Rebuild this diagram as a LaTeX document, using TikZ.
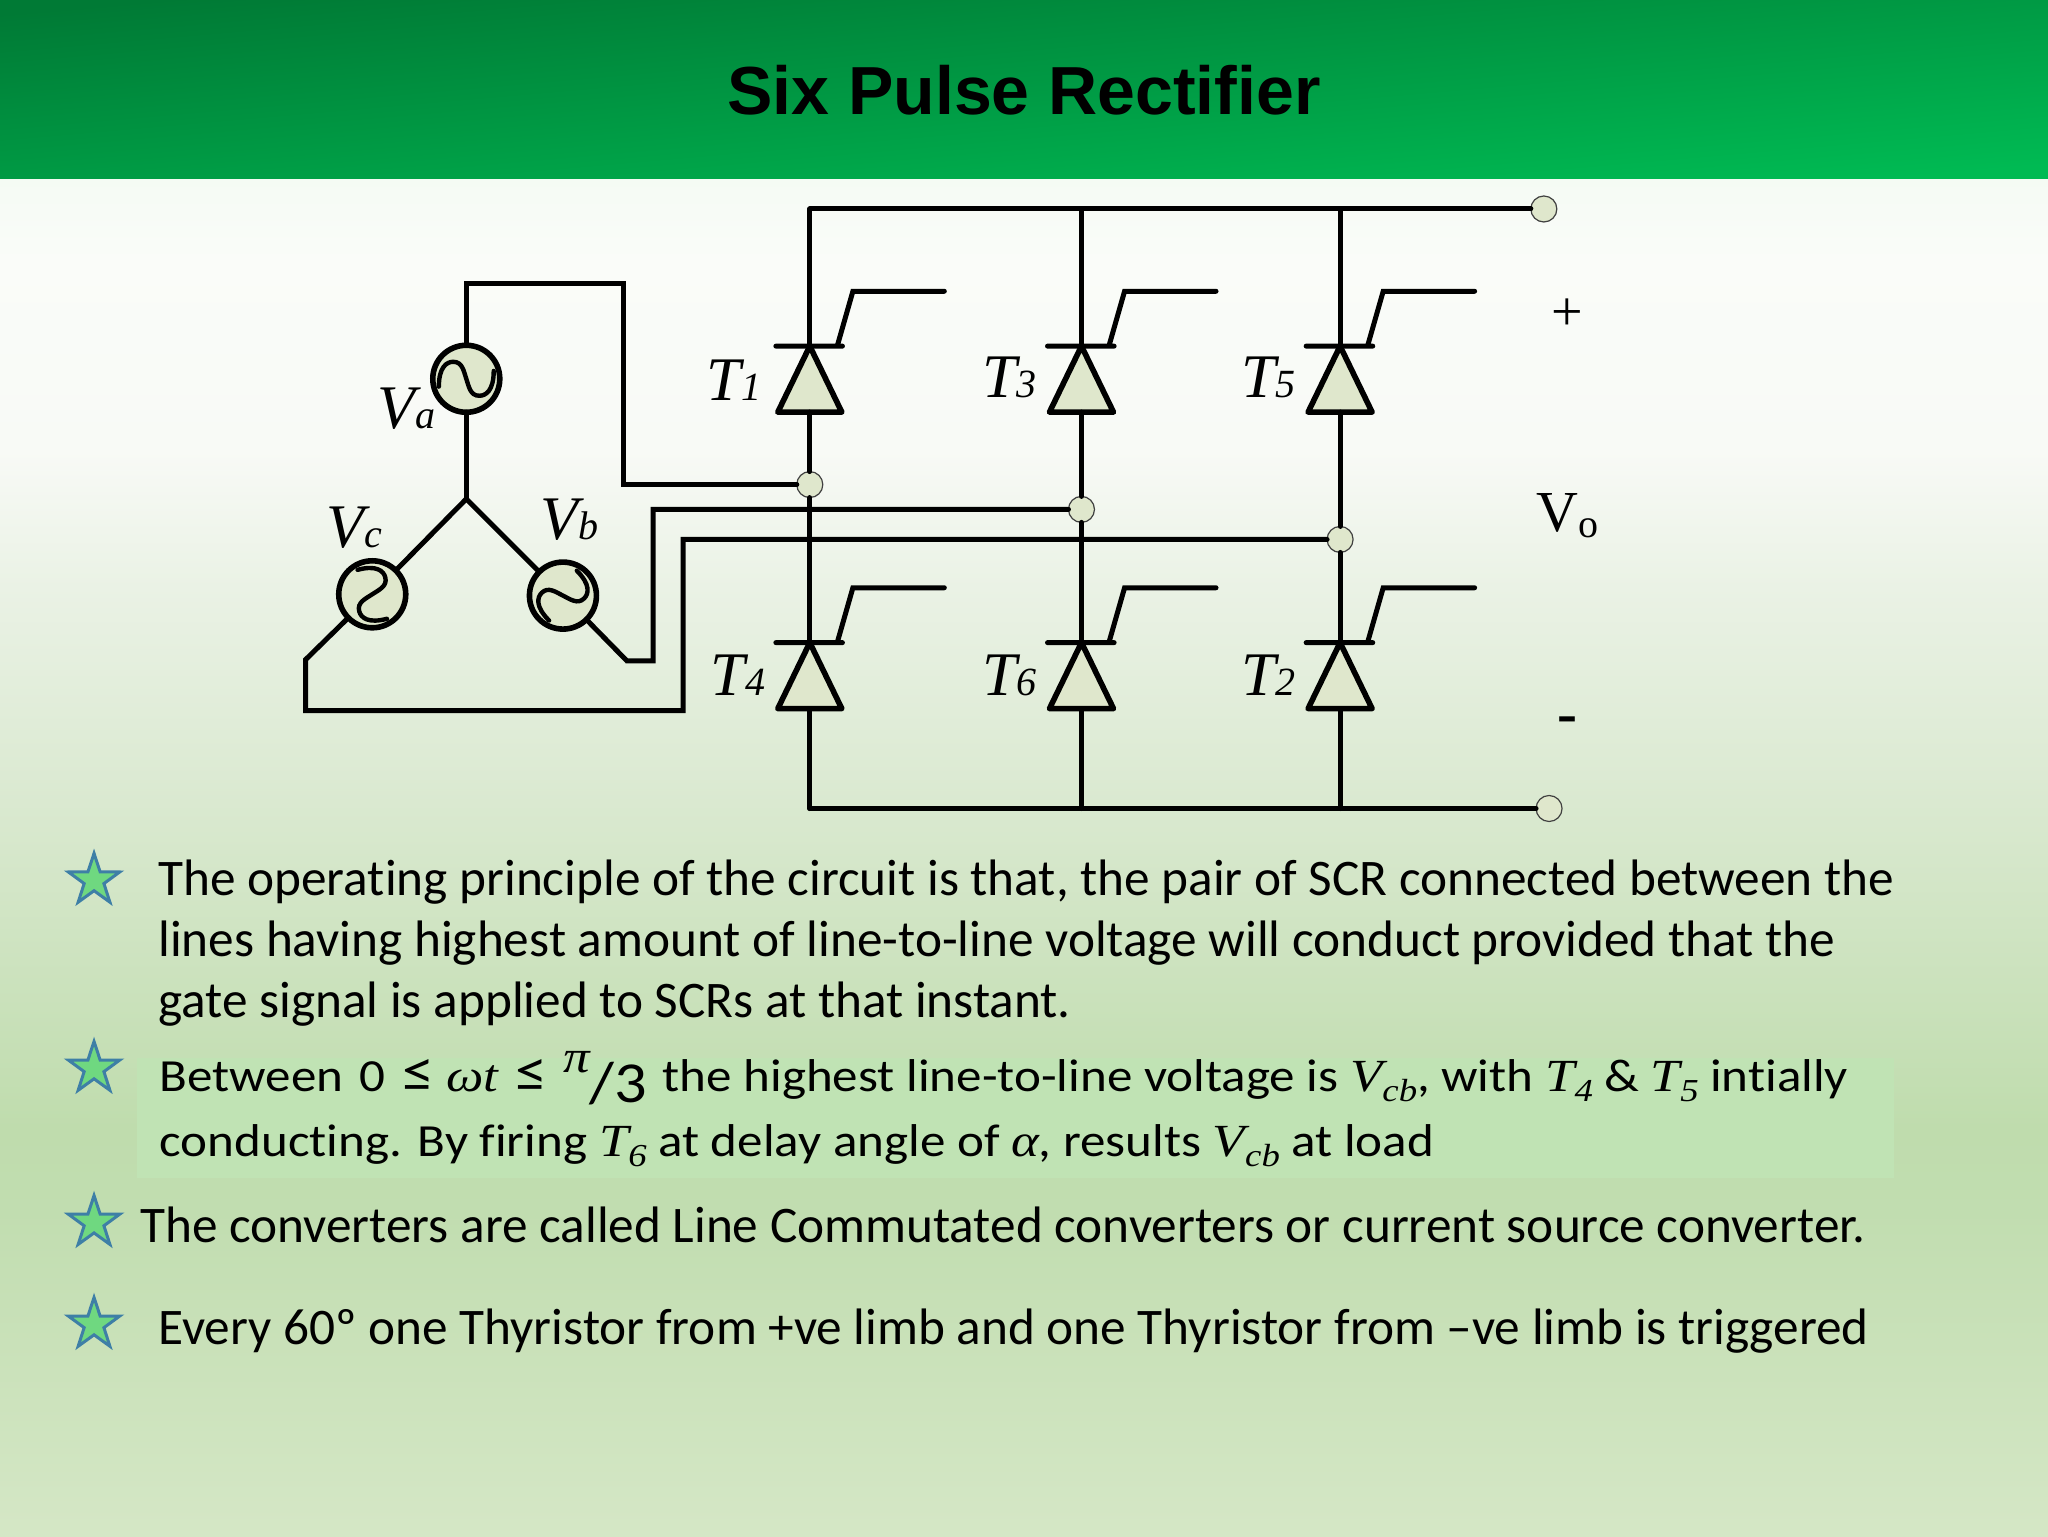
\documentclass[tikz,border=0pt]{standalone}
\usepackage{fontspec}
\setmainfont[Ligatures=NoCommon]{Carlito}
\newfontfamily\boxfont[FakeStretch=1.11,Ligatures=NoCommon]{Carlito}
\newfontfamily\titlefont{Liberation Sans}
\newfontfamily\circfont{Liberation Serif}
\newfontfamily\mathfont[FakeStretch=1.15]{Liberation Serif}
\usetikzlibrary{shapes.geometric}

\definecolor{part}{HTML}{DFE7CC}
\definecolor{panel}{HTML}{C0E3B4}
\definecolor{starfill}{HTML}{6FD880}
\definecolor{starline}{HTML}{3E7FA6}
\definecolor{headdark}{HTML}{007A35}
\definecolor{headlight}{HTML}{00BA53}

\pgfdeclareverticalshading{slide}{100bp}{
  rgb(0bp)=(.835,.906,.776);
  rgb(25bp)=(.835,.906,.776);
  rgb(37bp)=(.757,.867,.690);
  rgb(40bp)=(.749,.863,.678);
  rgb(53bp)=(.863,.918,.827);
  rgb(60bp)=(.918,.949,.898);
  rgb(65bp)=(.973,.98,.965);
  rgb(72bp)=(.98,.988,.976);
  rgb(75bp)=(.961,.984,.957);
  rgb(100bp)=(.961,.984,.957)}

\newcommand{\lab}[2]{\circfont\itshape\fontsize{31}{31}\selectfont #1{\fontsize{20}{20}\selectfont #2}}
\newcommand{\mi}[1]{{\mathfont\itshape #1}}
\newcommand{\mis}[2]{{\mathfont\itshape #1\raisebox{-.45ex}{\fontsize{16}{16}\selectfont #2}}}
\newcommand{\leqs}{{\fontsize{29}{29}\selectfont ≤}}

\tikzset{
  wire/.style={line width=2.5pt,line cap=round},
  scr/.style={isosceles triangle,isosceles triangle stretches,shape border rotate=90,
    draw,fill=part,line width=2.8pt,minimum width=32pt,minimum height=33pt,
    inner sep=0pt,outer sep=0pt,anchor=apex,line join=round},
  source/.style={circle,draw,fill=part,line width=2.8pt,minimum size=33.5pt,inner sep=0pt,outer sep=0pt},
  sinewave/.style={line width=2.2pt,line cap=round},
  terminal/.style={ellipse,draw=black!75,fill=part,line width=0.6pt,minimum width=13pt,minimum height=13pt,inner sep=0pt,outer sep=0pt},
  bullet/.style={star,star points=5,star point ratio=2.6,draw=starline,fill=starfill,line width=1.5pt,minimum size=27pt,inner sep=0pt},
  body/.style={anchor=west,align=left,inner sep=0pt,font=\fontsize{25.64}{30.7}\selectfont},
  acwave/.pic={
    \draw[sinewave] (-21,6) .. controls (-21,-9) and (-15,-13) .. (-10,-13)
      .. controls (-3,-13) and (-2,-6) .. (0,0)
      .. controls (2,6) and (3,13) .. (10,13)
      .. controls (15,13) and (21,9) .. (21,-6);
  }
}

\begin{document}
\begin{tikzpicture}[x=0.65306pt,y=-0.65306pt]
   \useasboundingbox (0,0) rectangle (1568,1176);
   \shade[shading=slide] (0,137) rectangle (1568,1176);
   \shade[top color=headdark,bottom color=headlight,shading angle=5] (0,0) rectangle (1568,137);
   \node[font=\titlefont\bfseries\fontsize{34}{34}\selectfont] (title) at (784,69) {Six Pulse Rectifier};

   \foreach \name/\x/\y in {t1/620/265,t3/828/265,t5/1026/265,t4/620/492,t6/828/492,t2/1026/492}{
      \node[scr] (\name) at (\x,\y) {};
      \draw[wire] (\x-26,\y) -- (\x+25,\y) (\x+21,\y) -- (\x+33,\y-42) -- (\x+103,\y-42);
   }
   \node (lt1) at (562,291) {\lab{T}{1}};
   \node (lt3) at (773,289) {\lab{T}{3}};
   \node (lt5) at (971,289) {\lab{T}{5}};
   \node (lt4) at (565,517) {\lab{T}{4}};
   \node (lt6) at (773,517) {\lab{T}{6}};
   \node (lt2) at (971,517) {\lab{T}{2}};

   \node[source] (va) at (357,290) {};
   \node[source] (vb) at (431,456) {};
   \node[source] (vc) at (285,455) {};
   \pic[rotate=0] at (va) {acwave};
   \pic[rotate=45] at (vb) {acwave};
   \pic[rotate=-75] at (vc) {acwave};
   \node (lva) at (311,313) {\lab{V}{a}};
   \node (lvb) at (436,398) {\lab{V}{b}};
   \node (lvc) at (271,404) {\lab{V}{c}};

   \node[terminal] (j1) at (620,371) {};
   \node[terminal] (j2) at (828,390) {};
   \node[terminal] (j3) at (1026,413) {};
   \node[terminal] (vp) at (1182,160) {};
   \node[terminal] (vm) at (1186,619) {};

   \coordinate (star) at (357,382);
   \coordinate (tb1) at (620,160);
   \coordinate (tb2) at (828,160);
   \coordinate (tb3) at (1026,160);
   \coordinate (bb1) at (620,619);
   \coordinate (bb2) at (828,619);
   \coordinate (bb3) at (1026,619);
   \coordinate (atop) at (477,217);
   \coordinate (bk1) at (480,506);
   \coordinate (bk2) at (500,506);
   \coordinate (ck1) at (234,505);
   \coordinate (ck2) at (234,544);
   \coordinate (ck3) at (523,544);

   \draw[wire] (tb1) -- (vp);
   \draw[wire] (bb1) -- (vm);
   \draw[wire] (tb1) -- (t1.apex);
   \draw[wire] (tb2) -- (t3.apex);
   \draw[wire] (tb3) -- (t5.apex);
   \draw[wire] (t1.lower side) -- (j1);
   \draw[wire] (t3.lower side) -- (j2);
   \draw[wire] (t5.lower side) -- (j3);
   \draw[wire] (j1) -- (t4.apex);
   \draw[wire] (j2) -- (t6.apex);
   \draw[wire] (j3) -- (t2.apex);
   \draw[wire] (t4.lower side) -- (bb1);
   \draw[wire] (t6.lower side) -- (bb2);
   \draw[wire] (t2.lower side) -- (bb3);

   \draw[wire] (star) -- (va);
   \draw[wire] (star) -- (vb);
   \draw[wire] (star) -- (vc);
   \draw[wire] (va.north) |- (atop) |- (j1);
   \draw[wire] (vb) -- (bk1) -- (bk2) |- (j2);
   \draw[wire] (vc) -- (ck1) -- (ck2) -- (ck3) |- (j3);

   \node[font=\circfont\fontsize{28}{28}\selectfont] (plus) at (1200,241) {+};
   \node[font=\circfont\bfseries\fontsize{30}{30}\selectfont] (minus) at (1200,555) {-};
   \node[font=\circfont\fontsize{29}{29}\selectfont] (vo) at (1200,395) {V{\fontsize{20}{20}\selectfont\raisebox{-.3ex}{o}}};

   \node[bullet] (s1) at (72,674) {};
   \node[bullet] (s2) at (72,818) {};
   \node[bullet] (s3) at (72,936) {};
   \node[bullet] (s4) at (72,1014) {};

   \node[body] (p1) at (121,722) {The operating principle of the circuit is that, the pair of SCR connected between the\\
      lines having highest amount of line-to-line voltage will conduct provided that the\\
      gate signal is applied to SCRs at that instant.};

   \fill[panel] (105,810) rectangle (1450,902);
   \node[body,font=\boxfont\fontsize{23}{32.5}\selectfont] (p2) at (122,849) {Between\hspace{2pt} 0\hspace{3pt} \leqs{} \mi{ωt}\hspace{3pt} \leqs{}\hspace{2pt} \raisebox{.9ex}{\mi{π}}\raisebox{-.5ex}{\fontsize{29}{29}\selectfont /3}\hspace{2pt} the highest line-to-line voltage is \mis{V}{cb}, with \mis{T}{4} \& \mis{T}{5} intially\\
      conducting. By firing \mis{T}{6} at delay angle of \mi{α}, results \mis{V}{cb} at load};

   \node[body] (p3) at (107,938) {The converters are called Line Commutated converters or current source converter.};
   \node[body] (p4) at (121,1019) {Every 60º one Thyristor from +ve limb and one Thyristor from –ve limb is triggered};
\end{tikzpicture}
\end{document}
